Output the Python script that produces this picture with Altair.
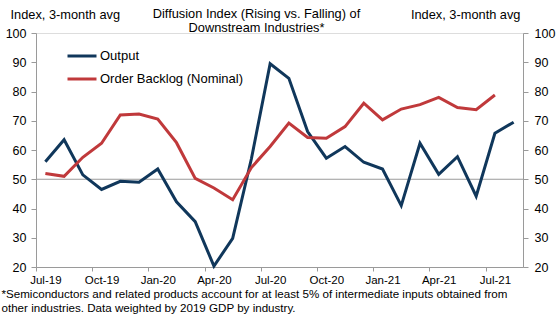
import altair as alt
import pandas as pd

months = ["Jul-19", "Aug-19", "Sep-19", "Oct-19", "Nov-19", "Dec-19",
          "Jan-20", "Feb-20", "Mar-20", "Apr-20", "May-20", "Jun-20",
          "Jul-20", "Aug-20", "Sep-20", "Oct-20", "Nov-20", "Dec-20",
          "Jan-21", "Feb-21", "Mar-21", "Apr-21", "May-21", "Jun-21",
          "Jul-21", "Aug-21"]
output = [56.0, 63.5, 51.5, 46.5, 49.3, 49.0, 53.5, 42.3, 35.5, 20.3, 29.8, 57.0,
          89.5, 84.5, 66.3, 57.2, 61.2, 55.8, 53.5, 41.0, 62.3, 51.7, 57.7, 44.2,
          65.7, 69.5]
backlog = [52.0, 51.0, 57.5, 62.3, 72.0, 72.3, 70.6, 62.5, 50.3, 47.0, 43.0, 54.0,
           61.2, 69.2, 64.3, 64.0, 68.0, 76.0, 70.3, 74.0, 75.5, 78.0, 74.5, 73.8,
           78.8, None]
series_names = ["Output", "Order Backlog (Nominal)"]
series_colors = ["#10375b", "#c0393b"]
x_tick_labels = ["Jul-19", "Oct-19", "Jan-20", "Apr-20", "Jul-20", "Oct-20",
                 "Jan-21", "Apr-21", "Jul-21"]
y_ticks = [20, 30, 40, 50, 60, 70, 80, 90, 100]
ref_level = [50]

title_lines = ["Diffusion Index (Rising vs. Falling) of", "Downstream Industries*"]
axis_title = "Index, 3-month avg"
footnote = ["*Semiconductors and related products account for at least 5% of intermediate inputs obtained from",
            "other industries. Data weighted by 2019 GDP by industry."]

rows = []
for m, o, b in zip(months, output, backlog):
    rows.append({"month": m, "series": series_names[0], "value": o})
    if b is not None:
        rows.append({"month": m, "series": series_names[1], "value": b})
df = pd.DataFrame(rows)
ref_df = pd.DataFrame({"value": ref_level})

FONT = "Liberation Sans"
W, H = 487, 234
step = W / len(months)
GRAY = "#9a9a9a"

yscale = alt.Scale(domain=[20, 100], nice=False, zero=False)

x_enc = alt.X(
    "month:N", sort=months,
    scale=alt.Scale(type="point", padding=0.5, domain=months),
    axis=alt.Axis(
        values=x_tick_labels, labelAngle=0, tickOffset=-step / 2, labelOffset=step / 2,
        domainColor=GRAY, tickColor=GRAY, tickSize=4, labelFont=FONT, labelFontSize=11.5,
        labelColor="black", labelPadding=3, labelBound=False, labelOverlap=False,
        title=footnote, titleFont=FONT, titleFontSize=11.6, titleFontWeight="normal",
        titleColor="black", titleAnchor="start", titleAlign="left", titleBaseline="top",
        titleX=-35, titleY=21, titleLineHeight=14,
    ),
)

lines = alt.Chart(df).mark_line(strokeWidth=3).encode(
    x=x_enc,
    y=alt.Y("value:Q", scale=yscale, axis=alt.Axis(
        orient="left", values=y_ticks, grid=False, domainColor=GRAY, tickColor=GRAY,
        tickSize=5, labelFont=FONT, labelFontSize=12.5, labelColor="black", labelPadding=5,
        title=axis_title, titleFont=FONT, titleFontSize=12.8, titleFontWeight="normal",
        titleColor="black", titleAngle=0, titleAlign="left", titleBaseline="middle",
        titleX=-26, titleY=-19,
    )),
    color=alt.Color("series:N", scale=alt.Scale(domain=series_names, range=series_colors),
                    legend=alt.Legend(
                        orient="none", legendX=30, legendY=7, title=None,
                        symbolType="stroke", symbolSize=841, symbolStrokeWidth=3,
                        labelFont=FONT, labelFontSize=13, labelColor="black",
                        labelOffset=2, rowPadding=-4,
                    )),
)

rule = alt.Chart(ref_df).mark_rule(color=GRAY, strokeWidth=1).encode(
    y=alt.Y("value:Q", scale=yscale, axis=alt.Axis(
        orient="right", values=y_ticks, grid=False, domainColor=GRAY, tickColor=GRAY,
        tickSize=5, labelFont=FONT, labelFontSize=12.5, labelColor="black", labelPadding=6,
        title=axis_title, titleFont=FONT, titleFontSize=12.8, titleFontWeight="normal",
        titleColor="black", titleAngle=0, titleAlign="right", titleBaseline="middle",
        titleX=-3, titleY=-19,
    )),
)

chart = alt.layer(rule, lines).resolve_axis(y="independent").properties(
    width=W, height=H,
    autosize=alt.AutoSizeParams(type="none"),
    padding={"left": 36, "top": 33, "right": 36, "bottom": 60},
    title=alt.TitleParams(
        text=title_lines, font=FONT, fontSize=12.8, fontWeight="normal", color="black",
        anchor="middle", dx=-23, dy=25, offset=-2, lineHeight=14,
    ),
).configure_view(stroke=None).configure(background="white")

chart.save("out.html", embed_options={"renderer": "svg", "actions": False})
